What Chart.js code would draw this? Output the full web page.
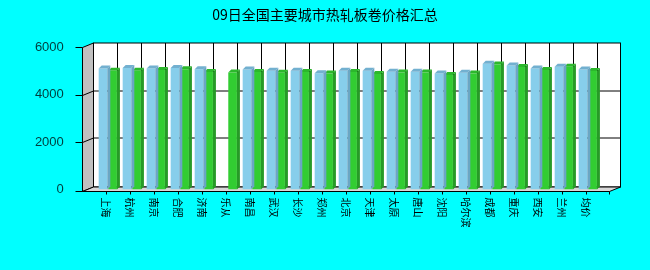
<!DOCTYPE html>
<html>
<head>
<meta charset="utf-8">
<script src="https://cdn.jsdelivr.net/npm/chart.js@4"></script>
<style>
  html, body { margin: 0; padding: 0; background: #00ffff; }
  #wrap { width: 650px; height: 270px; }
</style>
</head>
<body>
<div id="wrap"><canvas id="priceChart" width="650" height="270"></canvas></div>
<script>
// city names and the two price series
const categories = ['上海', '杭州', '南京', '合肥', '济南', '乐从', '南昌', '武汉', '长沙', '郑州', '北京',
  '天津', '太原', '唐山', '沈阳', '哈尔滨', '成都', '重庆', '西安', '兰州', '均价'];
const pricesPrev = [5100, 5120, 5100, 5120, 5060, null, 5050, 5000, 5000, 4900, 5000,
  5000, 4960, 4960, 4880, 4920, 5300, 5220, 5100, 5170, 5050];
const pricesNow = [5000, 5000, 5030, 5060, 4950, 4930, 4950, 4920, 4950, 4880, 4950,
  4860, 4930, 4930, 4820, 4880, 5260, 5160, 5030, 5170, 4990];
const yTicks = [0, 2000, 4000, 6000];

// 3d look
const DX = 11, DY = -4.5;      // depth of the box
const BX = 3, BY = 3;          // depth of each bar
const LABEL_SHIFT = -1.8;      // tick/label position relative to the bar group centre

const faceColors = [
  { top: '#72b0d0', side: '#6aa6c4' },
  { top: '#2cb82c', side: '#279a27' }
];

const box3d = {
  id: 'box3d',
  beforeDatasetsDraw(chart) {
    const { ctx, chartArea: a, scales: { x, y } } = chart;
    const fl = Math.round(a.left - 14.3) + 0.5;
    const fr = Math.round(a.right + 8.7) + 0.5;
    const ft = Math.round(y.getPixelForValue(6000)) + 0.5;
    const fb = Math.round(y.getPixelForValue(0) + 1) + 0.5;
    const bt = ft + DY, bb = fb + DY, bl = fl + DX, br = fr + DX;

    ctx.save();
    ctx.lineWidth = 1;
    ctx.strokeStyle = '#000';

    // back wall
    ctx.fillStyle = '#ffffff';
    ctx.fillRect(bl, bt, br - bl, bb - bt);
    ctx.strokeRect(bl, bt, br - bl, bb - bt);

    // left wall
    ctx.fillStyle = '#c0c0c0';
    ctx.beginPath();
    ctx.moveTo(fl, ft); ctx.lineTo(bl, bt); ctx.lineTo(bl, bb); ctx.lineTo(fl, fb); ctx.closePath();
    ctx.fill(); ctx.stroke();

    // floor
    ctx.fillStyle = '#d8d8d8';
    ctx.beginPath();
    ctx.moveTo(fl, fb); ctx.lineTo(bl, bb); ctx.lineTo(br, bb); ctx.lineTo(fr, fb); ctx.closePath();
    ctx.fill(); ctx.stroke();

    // horizontal grid on back + left wall, tick marks on the front axis
    yTicks.forEach(v => {
      const yy = Math.round(y.getPixelForValue(v)) + 0.5;
      ctx.beginPath();
      if (v !== 0 && v !== 6000) {
        ctx.moveTo(fl, yy); ctx.lineTo(bl, yy + DY); ctx.lineTo(br, yy + DY);
      }
      ctx.moveTo(fl - 7, v === 0 ? fb : yy); ctx.lineTo(fl, v === 0 ? fb : yy);
      ctx.stroke();
    });

    // vertical grid on the back wall and tick marks under the floor
    categories.forEach((c, i) => {
      const tx = Math.round(x.getPixelForValue(i) + LABEL_SHIFT) + 0.5;
      ctx.beginPath();
      ctx.moveTo(tx + DX, bt); ctx.lineTo(tx + DX, bb);
      ctx.moveTo(tx, fb); ctx.lineTo(tx, fb + 3);
      ctx.stroke();
    });
    ctx.beginPath();
    ctx.moveTo(fr, fb); ctx.lineTo(fr, fb + 3);
    ctx.stroke();
    ctx.restore();
  },
  afterDatasetDraw(chart, args) {
    const { ctx } = chart;
    const fc = faceColors[args.index];
    const values = chart.data.datasets[args.index].data;
    ctx.save();
    args.meta.data.forEach((bar, i) => {
      if (values[i] == null) return;
      const p = bar.getProps(['x', 'y', 'base', 'width'], true);
      const l = p.x - p.width / 2, r = p.x + p.width / 2;
      ctx.fillStyle = fc.top;
      ctx.beginPath();
      ctx.moveTo(l, p.y); ctx.lineTo(l + BX, p.y - BY); ctx.lineTo(r + BX, p.y - BY); ctx.lineTo(r, p.y);
      ctx.closePath(); ctx.fill();
      ctx.fillStyle = fc.side;
      ctx.beginPath();
      ctx.moveTo(r, p.y); ctx.lineTo(r + BX, p.y - BY); ctx.lineTo(r + BX, p.base - BY); ctx.lineTo(r, p.base);
      ctx.closePath(); ctx.fill();
    });
    ctx.restore();
  },
  afterDraw(chart) {
    // category names, turned a quarter clockwise
    const { ctx, chartArea: a, scales: { x } } = chart;
    ctx.save();
    ctx.fillStyle = '#000';
    ctx.font = '10px "Noto Sans CJK SC"';
    ctx.textAlign = 'left';
    ctx.textBaseline = 'middle';
    categories.forEach((c, i) => {
      const tx = x.getPixelForValue(i) + LABEL_SHIFT;
      ctx.save();
      ctx.translate(tx, a.bottom + 8);
      ctx.rotate(Math.PI / 2);
      ctx.fillText(c, 0, 0);
      ctx.restore();
    });
    ctx.restore();
  }
};

const config = {
  type: 'bar',
  data: {
    labels: categories,
    datasets: [
      { label: '前期', data: pricesPrev, backgroundColor: '#87ceeb', borderWidth: 0 },
      { label: '本期', data: pricesNow, backgroundColor: '#32cd32', borderWidth: 0 }
    ]
  },
  options: {
    responsive: false,
    animation: false,
    layout: { padding: 0 },
    plugins: {
      legend: { display: false },
      tooltip: { enabled: false },
      title: {
        display: true,
        text: '09日全国主要城市热轧板卷价格汇总',
        color: '#000',
        font: { family: '"Noto Sans CJK SC"', size: 14, weight: 'normal', lineHeight: 1.2 },
        padding: { top: 6.6, bottom: 23.6 }
      }
    },
    scales: {
      x: {
        grid: { display: false },
        border: { display: false },
        ticks: { display: false },
        categoryPercentage: 0.79,
        barPercentage: 1,
        afterFit: s => { s.height = 80.5; }
      },
      y: {
        min: 0,
        max: 6000,
        grid: { display: false },
        border: { display: false },
        afterBuildTicks: s => { s.ticks = yTicks.map(v => ({ value: v })); },
        ticks: {
          color: '#003c3c',
          padding: 24,
          font: { family: '"Liberation Sans"', size: 13 },
          callback: v => String(v)
        },
        afterFit: s => { s.width = 95.8; }
      },
      // empty right-hand axis that only reserves the space right of the box
      pad: {
        type: 'linear',
        position: 'right',
        grid: { display: false },
        border: { display: false },
        ticks: { display: false },
        afterFit: s => { s.width = 50.2; }
      }
    }
  },
  plugins: [box3d]
};

new Chart(document.getElementById('priceChart').getContext('2d'), config);
</script>
</body>
</html>
